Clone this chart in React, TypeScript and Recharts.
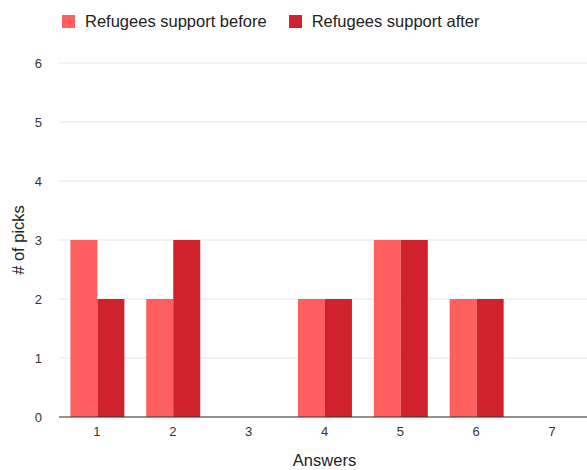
import React from 'react';
import {
  BarChart,
  Bar,
  XAxis,
  YAxis,
  CartesianGrid,
  Legend,
} from 'recharts';

// 回答ごとの選択数
const answers = ['1', '2', '3', '4', '5', '6', '7'];
const supportBefore = [3, 2, 0, 2, 3, 2, 0];
const supportAfter = [2, 3, 0, 2, 3, 2, 0];
const yTicks = [0, 1, 2, 3, 4, 5, 6];

const seriesNames = ['Refugees support before', 'Refugees support after'];
const colors = ['#ff5f5f', '#d0222d'];

const data = answers.map((answer, i) => ({
  answer,
  before: supportBefore[i],
  after: supportAfter[i],
}));

const font = '"Liberation Sans", Arial, Helvetica, sans-serif';

const LegendContent = () => (
  <div style={{ display: 'flex', alignItems: 'center', height: 42, paddingLeft: 62, fontFamily: font }}>
    {seriesNames.map((name, i) => (
      <div key={name} style={{ display: 'flex', alignItems: 'center', marginRight: 22 }}>
        <span style={{ display: 'inline-block', width: 13, height: 13, background: colors[i], marginRight: 10 }} />
        <span style={{ fontSize: 16.5, color: '#222' }}>{name}</span>
      </div>
    ))}
  </div>
);

export default function App() {
  return (
    <div style={{ position: 'absolute', left: 0, top: 0, width: 587, height: 470, overflow: 'hidden', background: '#fff' }}>
      <BarChart
        width={590}
        height={470}
        data={data}
        margin={{ top: 21, right: 0, bottom: 0, left: 0 }}
        barCategoryGap="15%"
        barGap={0}
      >
        <Legend verticalAlign="top" align="left" content={<LegendContent />} wrapperStyle={{ top: 0, left: 0 }} />
        <CartesianGrid vertical={false} stroke="#e6e6e6" />
        <XAxis
          dataKey="answer"
          height={53}
          tickLine={false}
          tickSize={0}
          tickMargin={10}
          axisLine={{ stroke: '#333' }}
          tick={{ fill: '#333', fontSize: 13, fontFamily: font }}
          label={{ value: 'Answers', position: 'insideBottom', offset: 4, fill: '#222', fontSize: 16.5, fontFamily: font }}
        />
        <YAxis
          width={59}
          domain={[0, 6]}
          ticks={yTicks}
          interval={0}
          axisLine={false}
          tickLine={false}
          tickSize={0}
          tickMargin={17}
          tick={{ fill: '#333', fontSize: 13, fontFamily: font }}
          label={{ value: '# of picks', angle: -90, position: 'insideLeft', offset: 18, fill: '#222', fontSize: 16.5, fontFamily: font, style: { textAnchor: 'middle' } }}
        />
        <Bar dataKey="before" name={seriesNames[0]} fill={colors[0]} isAnimationActive={false} />
        <Bar dataKey="after" name={seriesNames[1]} fill={colors[1]} isAnimationActive={false} />
      </BarChart>
    </div>
  );
}
